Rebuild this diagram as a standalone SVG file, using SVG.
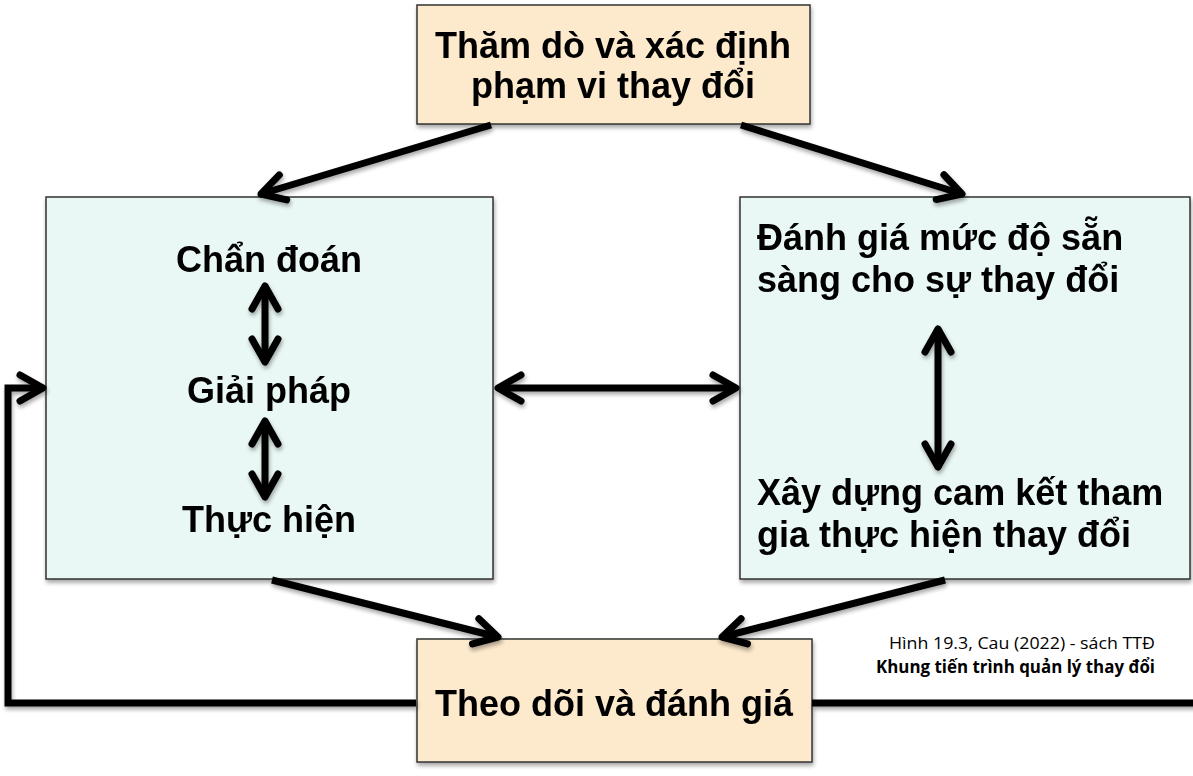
<svg xmlns="http://www.w3.org/2000/svg" width="1193" height="776" viewBox="0 0 1193 776">
<style>
.box{stroke:#333;stroke-width:1.5}
.peach{fill:#FDE9CB}
.cyan{fill:#EAF8F5}
.t{font-family:"Liberation Sans",Arial,sans-serif;font-weight:bold;font-size:36px;fill:#000}
.c{text-anchor:middle}
.ln{fill:none;stroke:#000;stroke-width:7;stroke-linejoin:miter}
.cap{font-family:"Open Sans","Liberation Sans",sans-serif;font-size:17px;fill:#000;text-anchor:end}
</style>
<defs>
<filter id="sh" x="-10%" y="-10%" width="120%" height="130%">
<feGaussianBlur in="SourceAlpha" stdDeviation="2"/>
<feOffset dx="1" dy="3" result="b"/>
<feComponentTransfer><feFuncA type="linear" slope="0.35"/></feComponentTransfer>
<feMerge><feMergeNode/><feMergeNode in="SourceGraphic"/></feMerge>
</filter>
<marker id="ah" markerUnits="userSpaceOnUse" markerWidth="40" markerHeight="40" refX="0" refY="0" viewBox="-30 -20 40 40" orient="auto-start-reverse" overflow="visible">
<path d="M-23,-13 L0,0 L-23,13" fill="none" stroke="#000" stroke-width="7" stroke-linecap="round" stroke-linejoin="round"/>
</marker>
</defs>
<rect width="1193" height="776" fill="#fff"/>

<g id="node-top" filter="url(#sh)">
<rect class="box peach" x="417" y="5" width="393" height="119"/>
<text class="t c" x="613" y="58">Thăm dò và xác định</text>
<text class="t c" x="613" y="98">phạm vi thay đổi</text>
</g>

<g id="node-left" filter="url(#sh)">
<rect class="box cyan" x="46" y="197" width="447" height="382"/>
<text class="t c" x="269" y="272">Chẩn đoán</text>
<text class="t c" x="269" y="403">Giải pháp</text>
<text class="t c" x="269" y="532">Thực hiện</text>
</g>

<g id="node-right" filter="url(#sh)">
<rect class="box cyan" x="740" y="197" width="450" height="382"/>
<text class="t" x="757" y="250">Đánh giá mức độ sẵn</text>
<text class="t" x="757" y="292">sàng cho sự thay đổi</text>
<text class="t" x="757" y="505">Xây dựng cam kết tham</text>
<text class="t" x="757" y="547">gia thực hiện thay đổi</text>
</g>

<g id="node-bottom" filter="url(#sh)">
<rect class="box peach" x="417" y="639" width="395" height="123"/>
<text class="t c" x="614" y="716">Theo dõi và đánh giá</text>
</g>

<g id="connectors" filter="url(#sh)">
<line class="ln" x1="491" y1="125" x2="261" y2="194" marker-end="url(#ah)"/>
<line class="ln" x1="741" y1="125" x2="962" y2="194" marker-end="url(#ah)"/>
<line class="ln" x1="272" y1="580" x2="498" y2="637" marker-end="url(#ah)"/>
<line class="ln" x1="945" y1="580" x2="722" y2="637" marker-end="url(#ah)"/>
<line class="ln" x1="498" y1="388" x2="736" y2="388" marker-start="url(#ah)" marker-end="url(#ah)"/>
<line class="ln" x1="265" y1="286" x2="265" y2="362" marker-start="url(#ah)" marker-end="url(#ah)"/>
<line class="ln" x1="265" y1="421" x2="265" y2="497" marker-start="url(#ah)" marker-end="url(#ah)"/>
<line class="ln" x1="938" y1="329" x2="938" y2="467" marker-start="url(#ah)" marker-end="url(#ah)"/>
<path class="ln" d="M416,703 H8 V388 H43" marker-end="url(#ah)"/>
<line class="ln" x1="812" y1="703" x2="1200" y2="703"/>
</g>

<g id="caption">
<text class="cap" x="1155" y="649" textLength="266" lengthAdjust="spacingAndGlyphs">Hình 19.3, Cau (2022) - sách TTĐ</text>
<text class="cap" x="1155" y="673" font-weight="bold" textLength="279" lengthAdjust="spacingAndGlyphs">Khung tiến trình quản lý thay đổi</text>
</g>
</svg>
